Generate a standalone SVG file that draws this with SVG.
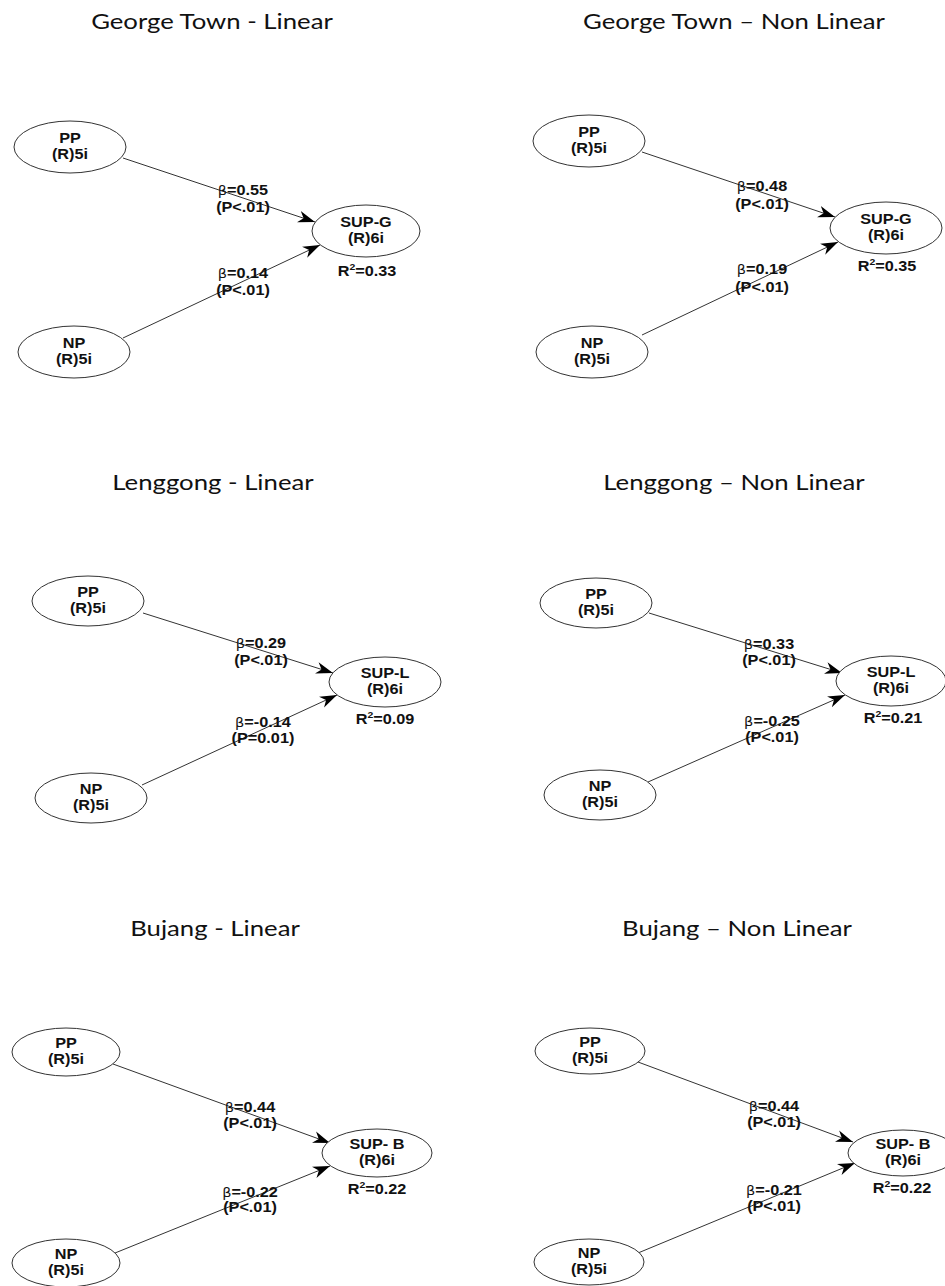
<svg xmlns="http://www.w3.org/2000/svg" width="945" height="1286" viewBox="0 0 945 1286">
<style>
.title{font-family:Lato,"Open Sans","Liberation Sans",sans-serif;font-size:22px;fill:#111;text-anchor:middle}
.node ellipse{fill:#fff;stroke:#333;stroke-width:1}
.nt{font-family:"Liberation Sans",Arial,sans-serif;font-weight:bold;font-size:14px;fill:#111;text-anchor:middle}
.lb{font-family:"Liberation Sans",Arial,sans-serif;font-weight:bold;font-size:14px;fill:#111;text-anchor:middle}
.b{font-weight:normal;font-family:"DejaVu Sans",sans-serif;font-size:12.5px}
.sup{font-size:9px}
.edges line{stroke:#333;stroke-width:1;marker-end:url(#arr)}
</style>
<defs>
<marker id="arr" markerUnits="userSpaceOnUse" markerWidth="18" markerHeight="14" refX="17" refY="6" orient="auto" viewBox="0 0 18 12">
<path d="M0,0 L17,6 L0,12 L5,6 z" fill="#000"/>
</marker>
</defs>
<rect width="945" height="1286" fill="#fff"/>

<g id="titles" transform="scale(1.17,1)">
<text class="title" x="181.2" y="29">George Town - Linear</text>
<text class="title" x="627.35" y="29">George Town – Non Linear</text>
<text class="title" x="182.05" y="490">Lenggong - Linear</text>
<text class="title" x="627.35" y="490">Lenggong – Non Linear</text>
<text class="title" x="183.76" y="936">Bujang - Linear</text>
<text class="title" x="629.91" y="936">Bujang – Non Linear</text>
</g>

<g class="edges" id="connectors">
<line x1="123" y1="158" x2="315" y2="222"/>
<line x1="123" y1="338" x2="320" y2="245"/>
<line x1="642" y1="152" x2="835" y2="217"/>
<line x1="642" y1="335" x2="838" y2="242"/>
<line x1="143" y1="613" x2="333" y2="673"/>
<line x1="142" y1="785" x2="337" y2="695"/>
<line x1="649" y1="613" x2="842" y2="673"/>
<line x1="648" y1="782" x2="845" y2="695"/>
<line x1="113" y1="1064" x2="330" y2="1143"/>
<line x1="115" y1="1253" x2="330" y2="1166"/>
<line x1="638" y1="1062" x2="853" y2="1142"/>
<line x1="638" y1="1253" x2="855" y2="1163"/>
</g>

<g id="edge-labels" transform="scale(1.16,1)">
<text class="lb" x="209.48" y="195"><tspan class="b">β</tspan>=0.55</text>
<text class="lb" x="209.48" y="212">(P&lt;.01)</text>
<text class="lb" x="209.48" y="278"><tspan class="b">β</tspan>=0.14</text>
<text class="lb" x="209.48" y="295">(P&lt;.01)</text>
<text class="lb" x="656.9" y="191"><tspan class="b">β</tspan>=0.48</text>
<text class="lb" x="656.9" y="209">(P&lt;.01)</text>
<text class="lb" x="656.9" y="274"><tspan class="b">β</tspan>=0.19</text>
<text class="lb" x="656.9" y="292">(P&lt;.01)</text>
<text class="lb" x="225" y="648"><tspan class="b">β</tspan>=0.29</text>
<text class="lb" x="225" y="665">(P&lt;.01)</text>
<text class="lb" x="226.72" y="727"><tspan class="b">β</tspan>=-0.14</text>
<text class="lb" x="226.72" y="743">(P=0.01)</text>
<text class="lb" x="662.93" y="649"><tspan class="b">β</tspan>=0.33</text>
<text class="lb" x="662.93" y="665">(P&lt;.01)</text>
<text class="lb" x="665.52" y="726"><tspan class="b">β</tspan>=-0.25</text>
<text class="lb" x="665.52" y="742">(P&lt;.01)</text>
<text class="lb" x="215.52" y="1112"><tspan class="b">β</tspan>=0.44</text>
<text class="lb" x="215.52" y="1128">(P&lt;.01)</text>
<text class="lb" x="215.52" y="1197"><tspan class="b">β</tspan>=-0.22</text>
<text class="lb" x="215.52" y="1212">(P&lt;.01)</text>
<text class="lb" x="667.24" y="1111"><tspan class="b">β</tspan>=0.44</text>
<text class="lb" x="667.24" y="1127">(P&lt;.01)</text>
<text class="lb" x="667.24" y="1195"><tspan class="b">β</tspan>=-0.21</text>
<text class="lb" x="667.24" y="1211">(P&lt;.01)</text>
</g>

<g id="r2-labels" transform="scale(1.16,1)">
<text class="lb" x="316.38" y="276">R<tspan class="sup" dy="-6">2</tspan><tspan dy="6">=0.33</tspan></text>
<text class="lb" x="764.66" y="271">R<tspan class="sup" dy="-6">2</tspan><tspan dy="6">=0.35</tspan></text>
<text class="lb" x="331.9" y="724">R<tspan class="sup" dy="-6">2</tspan><tspan dy="6">=0.09</tspan></text>
<text class="lb" x="769.83" y="723">R<tspan class="sup" dy="-6">2</tspan><tspan dy="6">=0.21</tspan></text>
<text class="lb" x="325" y="1194">R<tspan class="sup" dy="-6">2</tspan><tspan dy="6">=0.22</tspan></text>
<text class="lb" x="777.59" y="1193">R<tspan class="sup" dy="-6">2</tspan><tspan dy="6">=0.22</tspan></text>
</g>

<g id="gt-lin-pp" class="node"><ellipse cx="70" cy="147" rx="56" ry="26"/><g transform="scale(1.16,1)"><text class="nt" x="60.34" y="143">PP</text><text class="nt" x="60.34" y="159">(R)5i</text></g></g>
<g id="gt-lin-np" class="node"><ellipse cx="74" cy="352" rx="56" ry="26"/><g transform="scale(1.16,1)"><text class="nt" x="63.79" y="348">NP</text><text class="nt" x="63.79" y="364">(R)5i</text></g></g>
<g id="gt-lin-sup" class="node"><ellipse cx="366" cy="231" rx="54" ry="26"/><g transform="scale(1.16,1)"><text class="nt" x="315.52" y="227">SUP-G</text><text class="nt" x="315.52" y="243">(R)6i</text></g></g>

<g id="gt-nl-pp" class="node"><ellipse cx="589" cy="141" rx="56" ry="26"/><g transform="scale(1.16,1)"><text class="nt" x="507.76" y="137">PP</text><text class="nt" x="507.76" y="153">(R)5i</text></g></g>
<g id="gt-nl-np" class="node"><ellipse cx="592" cy="352" rx="56" ry="26"/><g transform="scale(1.16,1)"><text class="nt" x="510.34" y="348">NP</text><text class="nt" x="510.34" y="364">(R)5i</text></g></g>
<g id="gt-nl-sup" class="node"><ellipse cx="886" cy="228" rx="56" ry="26"/><g transform="scale(1.16,1)"><text class="nt" x="763.79" y="224">SUP-G</text><text class="nt" x="763.79" y="240">(R)6i</text></g></g>

<g id="lg-lin-pp" class="node"><ellipse cx="88" cy="601" rx="56" ry="25"/><g transform="scale(1.16,1)"><text class="nt" x="75.86" y="597">PP</text><text class="nt" x="75.86" y="613">(R)5i</text></g></g>
<g id="lg-lin-np" class="node"><ellipse cx="91" cy="798" rx="56" ry="25"/><g transform="scale(1.16,1)"><text class="nt" x="78.45" y="794">NP</text><text class="nt" x="78.45" y="810">(R)5i</text></g></g>
<g id="lg-lin-sup" class="node"><ellipse cx="385" cy="682" rx="56" ry="25"/><g transform="scale(1.16,1)"><text class="nt" x="331.9" y="678">SUP-L</text><text class="nt" x="331.9" y="694">(R)6i</text></g></g>

<g id="lg-nl-pp" class="node"><ellipse cx="596" cy="603" rx="56" ry="25"/><g transform="scale(1.16,1)"><text class="nt" x="513.79" y="599">PP</text><text class="nt" x="513.79" y="615">(R)5i</text></g></g>
<g id="lg-nl-np" class="node"><ellipse cx="600" cy="795" rx="56" ry="25"/><g transform="scale(1.16,1)"><text class="nt" x="517.24" y="791">NP</text><text class="nt" x="517.24" y="807">(R)5i</text></g></g>
<g id="lg-nl-sup" class="node"><ellipse cx="891" cy="681" rx="55" ry="25"/><g transform="scale(1.16,1)"><text class="nt" x="768.1" y="677">SUP-L</text><text class="nt" x="768.1" y="693">(R)6i</text></g></g>

<g id="bj-lin-pp" class="node"><ellipse cx="66" cy="1052" rx="54" ry="24"/><g transform="scale(1.16,1)"><text class="nt" x="56.9" y="1048">PP</text><text class="nt" x="56.9" y="1064">(R)5i</text></g></g>
<g id="bj-lin-np" class="node"><ellipse cx="66" cy="1263" rx="54" ry="24"/><g transform="scale(1.16,1)"><text class="nt" x="56.9" y="1259">NP</text><text class="nt" x="56.9" y="1275">(R)5i</text></g></g>
<g id="bj-lin-sup" class="node"><ellipse cx="377" cy="1153" rx="55" ry="24"/><g transform="scale(1.16,1)"><text class="nt" x="325" y="1149">SUP- B</text><text class="nt" x="325" y="1165">(R)6i</text></g></g>

<g id="bj-nl-pp" class="node"><ellipse cx="590" cy="1051" rx="55" ry="23"/><g transform="scale(1.16,1)"><text class="nt" x="508.62" y="1047">PP</text><text class="nt" x="508.62" y="1063">(R)5i</text></g></g>
<g id="bj-nl-np" class="node"><ellipse cx="589" cy="1262" rx="55" ry="23"/><g transform="scale(1.16,1)"><text class="nt" x="507.76" y="1258">NP</text><text class="nt" x="507.76" y="1274">(R)5i</text></g></g>
<g id="bj-nl-sup" class="node"><ellipse cx="903" cy="1153" rx="55" ry="23"/><g transform="scale(1.16,1)"><text class="nt" x="778.45" y="1149">SUP- B</text><text class="nt" x="778.45" y="1165">(R)6i</text></g></g>
</svg>
